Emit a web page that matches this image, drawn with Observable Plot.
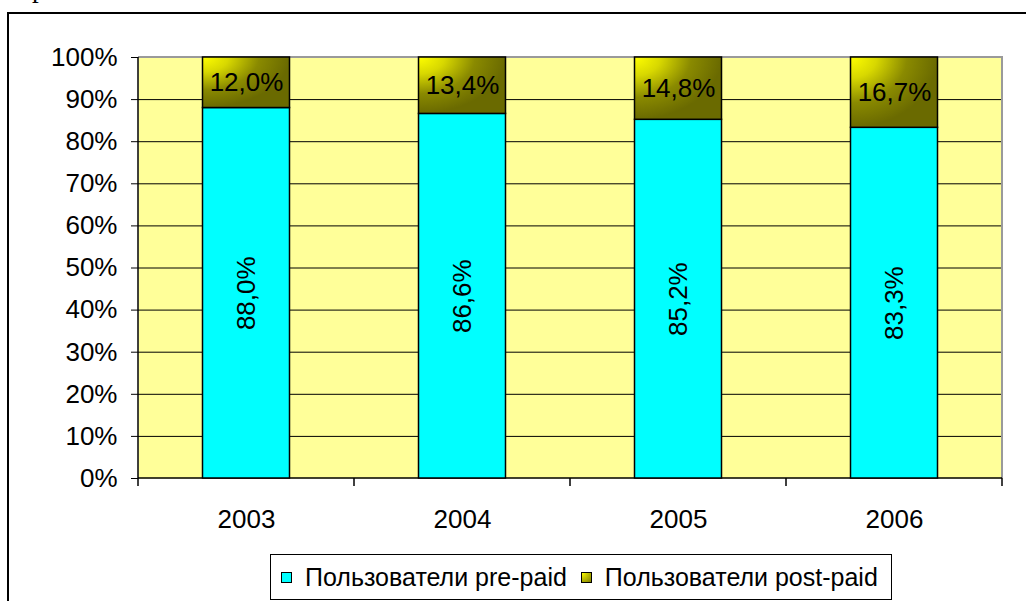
<!DOCTYPE html>
<html>
<head>
<meta charset="utf-8">
<script src="https://cdn.jsdelivr.net/npm/d3@7"></script>
<script src="https://cdn.jsdelivr.net/npm/@observablehq/plot@0.6"></script>
<style>
  html, body { margin: 0; padding: 0; background: white; width: 1026px; height: 601px; overflow: hidden; }
  #wrap { position: relative; width: 1026px; height: 601px; }
  #chart { position: absolute; left: 0; top: 0; }
  #frame { position: absolute; left: 7px; top: 12px; width: 1030px; height: 600px;
           border-top: 2px solid #000; border-left: 2px solid #000; pointer-events: none; }
  #above { position: absolute; left: 32px; top: -24.6px; font-family: "Liberation Serif", "Times New Roman", serif;
           font-size: 27px; line-height: 1; color: #000; }
  #legend { position: absolute; left: 270px; top: 554px; width: 620px; height: 44px;
            border: 1px solid #000; background: white; display: flex; align-items: center;
            font-family: "Liberation Sans", Arial, sans-serif; font-size: 25px; color: #000; box-sizing: content-box; }
  .sw { width: 9px; height: 9px; border: 1px solid #000; display: inline-block; flex: none; }
  .item { display: flex; align-items: center; white-space: nowrap; }
</style>
</head>
<body>
<div id="wrap">
  <div id="above">р</div>
  <div id="chart"></div>
  <div id="frame"></div>
  <div id="legend"></div>
</div>
<script>
const years = ["2003", "2004", "2005", "2006"];
const prePaid = [88.0, 86.6, 85.2, 83.3];
const postPaid = [12.0, 13.4, 14.8, 16.7];
const yTicks = [0, 10, 20, 30, 40, 50, 60, 70, 80, 90, 100];
const seriesNames = ["Пользователи pre-paid", "Пользователи post-paid"];
const seriesColors = ["#00FFFF", "url(#postGrad)"];

const data = years.map((year, i) => ({year, pre: prePaid[i], post: postPaid[i]}));
const fmt = v => v.toFixed(1).replace(".", ",") + "%";

function chrome(index, scales, values, dims) {
  const {width, marginLeft, marginRight} = dims;
  const left = marginLeft, right = width - marginRight;
  const top = scales.y(100), bottom = scales.y(0);
  const g = d3.create("svg:g");
  g.append("line").attr("x1", left).attr("x2", right + 1).attr("y1", top).attr("y2", top)
    .attr("stroke", "#9a9a9a").attr("stroke-width", 2);
  g.append("line").attr("x1", right).attr("x2", right).attr("y1", top).attr("y2", bottom)
    .attr("stroke", "#9a9a9a").attr("stroke-width", 2);
  g.append("line").attr("x1", left).attr("x2", left).attr("y1", top).attr("y2", bottom)
    .attr("stroke", "#000").attr("stroke-width", 1.5);
  g.append("line").attr("x1", left).attr("x2", right).attr("y1", bottom).attr("y2", bottom)
    .attr("stroke", "#000").attr("stroke-width", 1.5);
  const bounds = years.map(y => scales.x(y)).concat([right]);
  for (const bx of bounds) {
    g.append("line").attr("x1", bx).attr("x2", bx).attr("y1", bottom).attr("y2", bottom + 8)
      .attr("stroke", "#000").attr("stroke-width", 1.5);
  }
  return g.node();
}

const chart = Plot.plot({
  width: 1026,
  height: 540,
  marginLeft: 138,
  marginRight: 24,
  marginTop: 57,
  marginBottom: 62,
  style: {fontFamily: "'Liberation Sans', Arial, sans-serif", fontSize: "26px", color: "black", background: "transparent", overflow: "visible"},
  x: {domain: years, padding: 0, label: null, tickSize: 0, tickPadding: 31},
  y: {domain: [0, 100], ticks: yTicks, tickFormat: d => d + "%", label: null, tickSize: 7, tickPadding: 14},
  marks: [
    Plot.frame({fill: "#FFFF99"}),
    Plot.ruleY(yTicks.filter(t => t > 0 && t < 100), {stroke: "#000", strokeWidth: 1}),
    chrome,
    Plot.barY(data, {x: "year", y1: 0, y2: "pre", fill: seriesColors[0], stroke: "#000", strokeWidth: 1.5, insetLeft: 64.5, insetRight: 64.5}),
    Plot.barY(data, {x: "year", y1: "pre", y2: d => d.pre + d.post, fill: seriesColors[1], stroke: "#000", strokeWidth: 1.5, insetLeft: 64.5, insetRight: 64.5}),
    Plot.text(data, {x: "year", y: d => d.pre / 2, text: d => fmt(d.pre), rotate: -90, fontSize: 26, fill: "#000"}),
    Plot.text(data, {x: "year", y: d => d.pre + d.post / 2, text: d => fmt(d.post), fontSize: 26, fill: "#000"})
  ]
});

const ns = "http://www.w3.org/2000/svg";
const defs = document.createElementNS(ns, "defs");
defs.innerHTML = `<radialGradient id="postGrad" cx="0" cy="0" fx="0" fy="0" r="1">
  <stop offset="0" stop-color="#ffff00"/>
  <stop offset="0.3" stop-color="#d8d800"/>
  <stop offset="0.65" stop-color="#8a8a00"/>
  <stop offset="1" stop-color="#6a6a00"/>
</radialGradient>`;
chart.insertBefore(defs, chart.firstChild);
document.getElementById("chart").appendChild(chart);

const legend = d3.select("#legend");
const swatchBg = ["#00FFFF", "radial-gradient(circle at 0 0, #ffff00 0%, #c8c800 40%, #808000 100%)"];
seriesNames.forEach((name, i) => {
  const item = legend.append("div").attr("class", "item").style("margin-left", i === 0 ? "10px" : "14px");
  item.append("span").attr("class", "sw").style("background", swatchBg[i]);
  item.append("span").style("margin-left", "13px").text(name);
});
</script>
</body>
</html>
